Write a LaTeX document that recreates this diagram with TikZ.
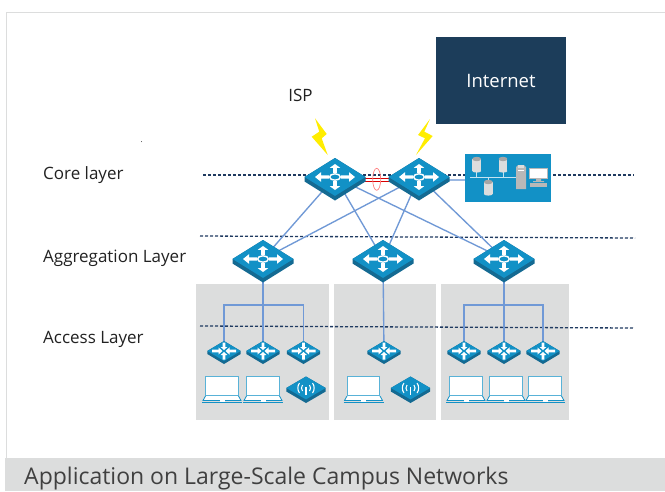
\documentclass[tikz,border=0pt]{standalone}
\usepackage{fontspec}
\setmainfont{Open Sans}
\usetikzlibrary{shapes.geometric}
\definecolor{swblue}{HTML}{1291C6}
\definecolor{swdark}{HTML}{146A92}
\definecolor{linkblue}{HTML}{7099D6}
\definecolor{panelgrey}{HTML}{DCDDDD}
\definecolor{navy}{HTML}{1C3D5A}
\definecolor{dashnavy}{HTML}{1F3A60}
\definecolor{txt}{HTML}{222222}
\pgfdeclarelayer{links}
\pgfsetlayers{links,main}
\tikzset{
  swface/.style={shape=diamond,fill=swblue,draw=none,inner sep=0pt,aspect=1.6},
  link/.style={draw=linkblue,line width=1.35pt},
  levelline/.style={draw=dashnavy,line width=1.3pt,dash pattern=on 3pt off 2pt},
  panel/.style={fill=panelgrey,draw=none},
  lab/.style={font=\fontsize{17}{18}\selectfont,text=txt,inner sep=0pt},
  bolt/.style={fill=yellow!95!orange,draw=none}
}
\newcommand{\outarrows}[2]{\begin{scope}[shift={(#1,#2)}]
    \draw[white,line width=1.4pt] (0,0) ellipse (5.4 and 3.2);
    \fill[white] (-20,0)--(-14,-4.8)--(-14,-1.6)--(-6,-1.6)--(-6,1.6)--(-14,1.6)--(-14,4.8)--cycle;
    \fill[white] (20,0)--(14,-4.8)--(14,-1.6)--(6,-1.6)--(6,1.6)--(14,1.6)--(14,4.8)--cycle;
    \fill[white] (0,-13)--(-5.2,-9.2)--(-1.8,-9.2)--(-1.8,-4)--(1.8,-4)--(1.8,-9.2)--(5.2,-9.2)--cycle;
    \fill[white] (0,13)--(-5.2,9.2)--(-1.8,9.2)--(-1.8,4)--(1.8,4)--(1.8,9.2)--(5.2,9.2)--cycle;
\end{scope}}
\newcommand{\inarrows}[2]{\begin{scope}[shift={(#1,#2)}]
    \fill[white] (-1.5,0)--(-5.5,-3.6)--(-5.5,-1.3)--(-12,-1.3)--(-12,1.3)--(-5.5,1.3)--(-5.5,3.6)--cycle;
    \fill[white] (1.5,0)--(5.5,-3.6)--(5.5,-1.3)--(12,-1.3)--(12,1.3)--(5.5,1.3)--(5.5,3.6)--cycle;
    \fill[white] (0,-1)--(-3.4,-4)--(-1.3,-4)--(-1.3,-8.5)--(1.3,-8.5)--(1.3,-4)--(3.4,-4)--cycle;
    \fill[white] (0,1)--(-3.4,4)--(-1.3,4)--(-1.3,8.5)--(1.3,8.5)--(1.3,4)--(3.4,4)--cycle;
\end{scope}}
\newcommand{\laptop}[2]{\begin{scope}[shift={(#1,#2)}]
    \fill[white] (-16.2,-12.2)rectangle(16.2,7);
    \draw[swblue!70!white,line width=.9pt] (-16.2,-12.2)rectangle(16.2,7);
    \fill[white] (-16.5,7.5)--(16.5,7.5)--(19,12)--(-19,12)--cycle;
    \draw[swblue,line width=.8pt] (-16.5,7.5)--(-19,12)--(19,12)--(16.5,7.5);
    \draw[swblue,line width=1pt] (-20,13.5)--(20,13.5);
    \fill[white] (-2.5,11)rectangle(2.5,13);
\end{scope}}
\newcommand{\can}[2]{\begin{scope}[shift={(#1,#2)}]
    \fill[panelgrey] (-4.4,0) rectangle (4.4,12);
    \fill[panelgrey] (0,12) ellipse (4.4 and 1.6);
    \fill[black!35] (0,0) ellipse (4.4 and 2.2);
\end{scope}}
% name, x, y, half width, half height, depth
\newcommand{\switchbody}[6]{%
  \fill[swdark] ({#2-#4},#3)--({#2-#4},{#3+#6})--(#2,{#3+#5+#6})--({#2+#4},{#3+#6})--({#2+#4},#3)--(#2,{#3-#5})--cycle;
  \node[swface,minimum width=#4*2pt,minimum height=#5*2pt] (#1) at (#2,#3) {};
}
\newcommand{\bigswitch}[3]{\switchbody{#1}{#2}{#3}{30.5}{19}{4.5}\outarrows{#2}{#3}}
\newcommand{\accswitch}[3]{\switchbody{#1}{#2}{#3}{16.7}{10}{3}\inarrows{#2}{#3}}
\newcommand{\apswitch}[3]{%
  \switchbody{#1}{#2}{#3}{19.7}{11.5}{3.5}
  \begin{scope}[shift={(#2,#3)}]
  \draw[white,line width=1.5pt] (0,-1)--(0,7);
  \draw[white,line width=1.1pt] (-3.5,-3) to[bend right=35] (-3.5,3);
  \draw[white,line width=1.1pt] (-6.5,-5) to[bend right=35] (-6.5,5);
  \draw[white,line width=1.1pt] (3.5,-3) to[bend left=35] (3.5,3);
  \draw[white,line width=1.1pt] (6.5,-5) to[bend left=35] (6.5,5);
  \end{scope}
}
\begin{document}
\begin{tikzpicture}[x=1pt,y=-1pt]
\useasboundingbox (0,0) rectangle (665,491);
\begin{pgfonlayer}{links}
  \fill[white] (0,0) rectangle (665,491);
  \draw[panelgrey,line width=1pt] (6.5,458)--(6.5,12.5)--(665,12.5);
  \fill[panel] (5,458) rectangle (665,491);
  \fill[panel] (196,284) rectangle (329,420);
  \fill[panel] (334,284) rectangle (436,420);
  \fill[panel] (441,284) rectangle (569,420);
\end{pgfonlayer}
\node[fill=navy,minimum width=130pt,minimum height=87pt,inner sep=0pt,text=white,font=\fontsize{18.5}{20}\selectfont] (inet) at (501,80.5) {Internet};
\node[lab] (isp) at (300.5,95.5) {ISP};
\node[lab,anchor=west] (corelab) at (43,175.5) {Core layer};
\node[lab,anchor=west] (agglab) at (43,258.5) {Aggregation Layer};
\node[lab,anchor=west] (acclab) at (43,339.5) {Access Layer};
\node[anchor=west,inner sep=0pt,text=black!75,font=\fontsize{23}{26}\selectfont] (title) at (24,478.5) {Application on Large-Scale Campus Networks};
\fill[black!70] (141.5,141.5) circle (.5);
% level lines
\coordinate (c1) at (203,175); \coordinate (c2) at (634,175);
\coordinate (g1) at (200,236); \coordinate (g2) at (635,238);
\coordinate (a1) at (200,326); \coordinate (a2) at (634,328);
% bolts
\fill[bolt] (315,118.3)--(326.7,134)--(321.7,138.3)--(327.7,155)--(311.7,136.7)--(319.3,131.7)--cycle;
\fill[bolt] (430,119)--(418,135)--(425,138.3)--(416,155)--(432.7,136)--(424.3,131.7)--cycle;
% server box
\node[fill=swblue,minimum width=86pt,minimum height=48pt,inner sep=0pt] (srv) at (508,178) {};
\draw[swblue!25!white,line width=1pt] (470,177)--(516,177);
\draw[swblue!25!white,line width=1pt] (476.7,172)--(476.7,177) (503,172)--(503,177) (488.3,177)--(488.3,182);
\can{476.7}{159}
\can{503}{159}
\can{488.3}{182}
\fill[black!28] (516,167)--(518,165)--(524,165)--(526,167)--(526,189)--(516,189)--cycle;
\fill[panelgrey] (518,165)rectangle(524,168);
\fill[white] (518,170)rectangle(524,171);
\fill[black!28] (528.7,168)rectangle(548,179);
\fill[white] (529.7,169)rectangle(547,178);
\fill[black!28] (536,179)rectangle(541,181) (533,181)rectangle(544,182);
\fill[black!28] (530,183)rectangle(547,187);
% switches
\bigswitch{cl}{335}{177}
\bigswitch{cr}{419}{177}
\bigswitch{al}{263}{259}
\bigswitch{am}{383}{259}
\bigswitch{ar}{504}{259}
\accswitch{s1}{224}{351}
\accswitch{s2}{263}{351}
\accswitch{s3}{303.5}{351}
\accswitch{s4}{384}{351}
\accswitch{s5}{464}{351}
\accswitch{s6}{504}{351}
\accswitch{s7}{543}{351}
\apswitch{ap1}{306}{388}
\apswitch{ap2}{410.5}{388}
\laptop{222}{388.5}
\laptop{263}{388.5}
\laptop{363.5}{388.5}
\laptop{466}{388.5}
\laptop{506}{388.5}
\laptop{545}{388.5}
\begin{pgfonlayer}{links}
  \draw[levelline] (c1)--(c2);
  \draw[levelline] (g1)--(g2);
  \draw[levelline] (a1)--(a2);
  \draw[link] (cl.center)--(al.center);
  \draw[link] (cl.center)--(am.center);
  \draw[link] (cl.center)--(ar.center);
  \draw[link] (cr.center)--(al.center);
  \draw[link] (cr.center)--(am.center);
  \draw[link] (cr.center)--(ar.center);
  \draw[draw=linkblue!70!white,line width=1.6pt] ([yshift=-3pt]cr.center)--([yshift=-3pt]cr.center-|srv.west);
  \draw[draw=red!85!black,line width=1pt] ([yshift=-1pt]cl.center)--([yshift=-1pt]cr.center);
  \draw[draw=red!85!black,line width=1pt] ([yshift=-4.5pt]cl.center)--([yshift=-4.5pt]cr.center);
  \draw[link] (al.center)--(s2.center);
  \draw[link] (am.center)--(s4.center);
  \draw[link] (ar.center)--(s6.center);
  \draw[link] (s1.center)--(s1.center|-0,305)--(s3.center|-0,305)--(s3.center);
  \draw[link] (s5.center)--(s5.center|-0,305)--(s7.center|-0,305)--(s7.center);
\end{pgfonlayer}
\draw[red!50!white,line width=.7pt] (376.7,179.3) ellipse (4 and 11);
\end{tikzpicture}
\end{document}
